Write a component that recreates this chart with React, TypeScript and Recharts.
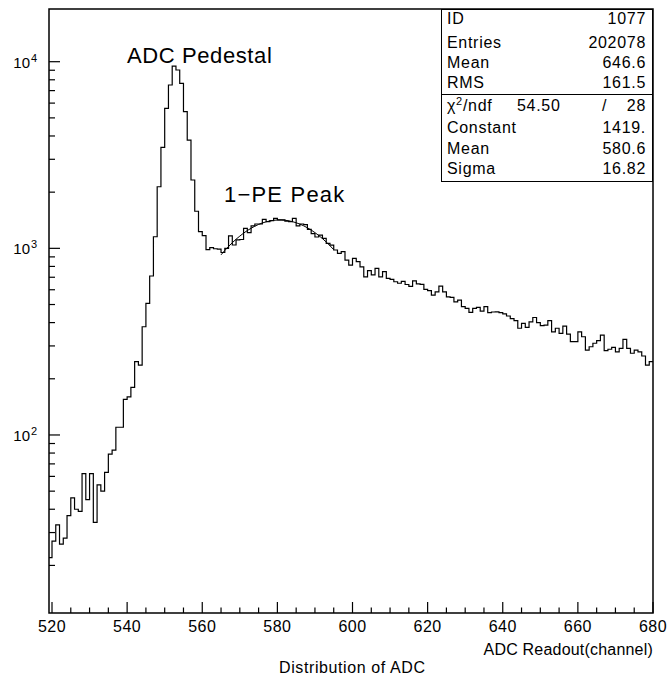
import React from "react"
import { ComposedChart, Line, XAxis, YAxis, ReferenceArea } from "recharts"

// channel of the first bin, bins are one channel wide
const FIRST_CHANNEL = 519

// 519 .. 565 : rising edge and ADC pedestal
const pedestalCounts = [
  22, 27, 33, 26, 28, 37, 46, 40, 39, 62,
  45, 62, 34, 54, 50, 63, 79, 83, 110, 110,
  155, 160, 180, 247, 237, 380, 507, 711, 1154, 2138,
  3477, 5626, 7500, 9480, 9030, 7660, 5400, 3800, 2324, 1580,
  1230, 1170, 985, 1010, 995, 990, 950,
]

// 566 .. 600 : 1-PE peak
const peCounts = [
  1000, 1165, 1042, 1109, 1115, 1280, 1213, 1318, 1350, 1350,
  1430, 1390, 1407, 1449, 1420, 1420, 1400, 1390, 1449, 1318,
  1350, 1340, 1265, 1200, 1150, 1178, 1130, 1064, 1040, 980,
  940, 960, 865, 813, 883,
]

// 601 .. 679 : tail
const tailCounts = [
  848, 796, 704, 759, 720, 781, 704, 750, 691, 682,
  662, 650, 665, 640, 625, 670, 645, 641, 603, 593,
  562, 585, 628, 585, 550, 546, 517, 528, 487, 477,
  454, 477, 483, 461, 487, 452, 456, 457, 452, 445,
  434, 420, 410, 373, 396, 377, 404, 426, 400, 385,
  388, 410, 357, 373, 350, 383, 347, 316, 316, 357,
  336, 285, 297, 310, 320, 343, 283, 288, 295, 279,
  291, 325, 291, 274, 285, 279, 265, 237, 247,
]

// gaussian fit curve as drawn
const fitChannels = [
  565, 566, 567, 568, 569, 570, 571, 572, 573, 574, 575, 576, 577, 578, 579, 580,
  581, 582, 583, 584, 585, 586, 587, 588, 589, 590, 591, 592, 593, 594, 595,
]
const fitValues = [
  923, 974, 1023, 1072, 1119, 1163, 1206, 1245, 1281, 1314, 1343, 1367, 1387, 1402, 1413, 1418,
  1419, 1414, 1405, 1390, 1371, 1348, 1320, 1288, 1253, 1214, 1172, 1128, 1081, 1033, 984,
]

const xTicks = [
  520, 525, 530, 535, 540, 545, 550, 555, 560, 565, 570, 575, 580, 585, 590, 595, 600,
  605, 610, 615, 620, 625, 630, 635, 640, 645, 650, 655, 660, 665, 670, 675, 680,
]
const xLabels = [520, 540, 560, 580, 600, 620, 640, 660, 680]
const yTicks = [
  20, 30, 40, 50, 60, 70, 80, 90,
  100, 200, 300, 400, 500, 600, 700, 800, 900,
  1000, 2000, 3000, 4000, 5000, 6000, 7000, 8000, 9000,
  10000,
]
const yDecades = [100, 1000, 10000]

const statLabels = ["ID", "Entries", "Mean", "RMS"]
const statValues = ["1077", "202078", "646.6", "161.5"]
const fitLabels = ["Constant", "Mean", "Sigma"]
const fitParams = ["1419.", "580.6", "16.82"]
const chi2 = "54.50"
const ndf = "28"

const FONT = '"Liberation Sans", Arial, sans-serif'
const PLOT_LEFT = 49
const PLOT_BOTTOM = 613

const allCounts = [...pedestalCounts, ...peCounts, ...tailCounts]
const histData = allCounts.map((c, i) => ({ x: FIRST_CHANNEL + i, count: c }))
histData.push({ x: FIRST_CHANNEL + allCounts.length, count: allCounts[allCounts.length - 1] })
const fitData = fitChannels.map((x, i) => ({ x, fit: fitValues[i] }))

function XTick(props: any) {
  const { x, payload } = props
  const v = payload.value
  const major = xLabels.includes(v)
  return (
    <g>
      <line x1={x} x2={x} y1={PLOT_BOTTOM} y2={PLOT_BOTTOM - (major ? 11 : 5.5)} stroke="#000" strokeWidth={1.2} />
      {major && (
        <text x={x} y={PLOT_BOTTOM + 19} textAnchor="middle" fontSize={16} fontFamily={FONT} fill="#000" letterSpacing={0.5}>
          {v}
        </text>
      )}
    </g>
  )
}

function YTick(props: any) {
  const { y, payload } = props
  const v = payload.value
  const major = yDecades.includes(v)
  return (
    <g>
      <line x1={PLOT_LEFT} x2={PLOT_LEFT + (major ? 11 : 6)} y1={y} y2={y} stroke="#000" strokeWidth={1.2} />
      {major && (
        <text x={PLOT_LEFT - 19} y={y + 6} textAnchor="end" fontSize={15} fontFamily={FONT} fill="#000">
          10
        </text>
      )}
      {major && (
        <text x={PLOT_LEFT - 18} y={y} fontSize={11} fontFamily={FONT} fill="#000">
          {Math.round(Math.log10(v))}
        </text>
      )}
    </g>
  )
}

const rowStyle: React.CSSProperties = {
  position: "absolute",
  left: 5,
  right: 6,
  height: 20,
  lineHeight: "20px",
  display: "flex",
  justifyContent: "space-between",
}

export default function App() {
  // row centres relative to the top of the stats box
  const topRows = [9, 33, 53, 73]
  const fitRows = [118, 139, 159]
  return (
    <div
      style={{
        position: "fixed",
        left: 0,
        top: 0,
        width: 670,
        height: 678,
        background: "#fff",
        fontFamily: FONT,
        color: "#000",
      }}
    >
      <ComposedChart width={670} height={678} margin={{ top: 9, right: 17, bottom: 0, left: 0 }}>
        <XAxis
          dataKey="x"
          type="number"
          domain={[519.2, 680]}
          allowDataOverflow
          ticks={xTicks}
          interval={0}
          tick={<XTick />}
          tickLine={false}
          axisLine={false}
          height={65}
        />
        <YAxis
          type="number"
          scale="log"
          domain={[11.12, 19160]}
          allowDataOverflow
          ticks={yTicks}
          interval={0}
          tick={<YTick />}
          tickLine={false}
          axisLine={false}
          width={49}
        />
        <ReferenceArea x1={519.2} x2={680} y1={11.12} y2={19160} fill="none" stroke="#000" strokeWidth={1.5} />
        <Line
          data={histData}
          dataKey="count"
          type="stepAfter"
          stroke="#000"
          strokeWidth={1.2}
          dot={false}
          isAnimationActive={false}
        />
        <Line
          data={fitData}
          dataKey="fit"
          type="monotone"
          stroke="#000"
          strokeWidth={1}
          dot={false}
          isAnimationActive={false}
        />
      </ComposedChart>

      <div style={{ position: "absolute", left: 127, top: 43, fontSize: 22, letterSpacing: 0.6, whiteSpace: "nowrap" }}>
        ADC Pedestal
      </div>
      <div style={{ position: "absolute", left: 224, top: 182, fontSize: 22, letterSpacing: 1.2, whiteSpace: "nowrap" }}>
        1−PE Peak
      </div>

      <div
        style={{
          position: "absolute",
          left: 441,
          top: 9,
          width: 212,
          height: 173,
          border: "1.5px solid #000",
          boxSizing: "border-box",
          background: "#fff",
          fontSize: 16,
          letterSpacing: 0.7,
        }}
      >
        {statLabels.map((l, i) => (
          <div key={l} style={{ ...rowStyle, top: topRows[i] - 10 }}>
            <span>{l}</span>
            <span>{statValues[i]}</span>
          </div>
        ))}
        <div style={{ position: "absolute", left: 0, right: 0, top: 84, borderTop: "1.5px solid #000" }} />
        <div style={{ ...rowStyle, top: 96 - 10 }}>
          <span>
            χ<span style={{ fontSize: 11, position: "relative", top: -6 }}>2</span>/ndf
          </span>
          <span style={{ position: "absolute", left: 70 }}>{chi2}</span>
          <span style={{ position: "absolute", left: 155 }}>/</span>
          <span>{ndf}</span>
        </div>
        {fitLabels.map((l, i) => (
          <div key={l + i} style={{ ...rowStyle, top: fitRows[i] - 10 }}>
            <span>{l}</span>
            <span>{fitParams[i]}</span>
          </div>
        ))}
      </div>

      <div style={{ position: "absolute", right: 17, top: 641, fontSize: 16, letterSpacing: 0.2, whiteSpace: "nowrap" }}>
        ADC Readout(channel)
      </div>
      <div style={{ position: "absolute", left: 279, top: 659, fontSize: 16, letterSpacing: 0.6, whiteSpace: "nowrap" }}>
        Distribution of ADC
      </div>
    </div>
  )
}
